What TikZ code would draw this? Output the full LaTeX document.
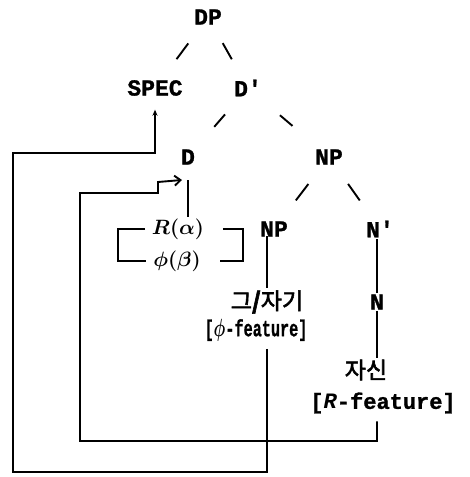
\documentclass[tikz,border=0pt]{standalone}
\usepackage{fontspec}
\usepackage{graphicx}
\setmainfont{Liberation Mono}[BoldFeatures={FakeBold=1.2}]
\newfontfamily\kofont{Noto Sans CJK KR}[FakeBold=2.5]
\usetikzlibrary{arrows.meta}

\begin{document}
\begin{tikzpicture}[x=1pt, y=-1pt, line width=1.8pt,
    lab/.style={font=\fontsize{23}{26}\selectfont\bfseries, inner sep=1pt},
    ko/.style={font=\fontsize{23}{26}\selectfont\kofont, inner sep=1pt},
    mth/.style={font=\fontsize{22}{24}\selectfont\boldmath, inner sep=1pt},
    branch/.style={line width=1.9pt},
    link/.style={line width=1.9pt, line join=miter}]
  \useasboundingbox (0,0) rectangle (469,477);
  % tree
  \node[lab] (DP) at (208,17) {DP};
  \node[lab] (SPEC) at (155,88) {SPEC};
  \node[lab] (Dbar) at (248,88) {D\textquotesingle};
  \node[lab] (D) at (188,157) {D};
  \node[lab] (NP) at (329,157) {NP};
  \node[mth] (Ra) at (178,229) {$R(\alpha)$};
  \node[mth] (phi) at (177,261) {$\phi(\beta)$};
  \node[lab] (NPb) at (274,229) {NP};
  \node[lab] (Nbar) at (380,229) {N\textquotesingle};
  \node[ko] (geu) at (267,302) {그\textbf{/}자기};
  \node[lab] (N) at (377,302) {N};
  \node[lab] (phif) at (256,330) {\scalebox{0.66}[1]{[\boldmath$\phi$-feature]}};
  \node[ko] (jasin) at (366,370) {자신};
  \node[lab, font=\fontsize{22}{26}\selectfont\bfseries] (Rf) at (383,403) {[\textit{R}-feature]};
  % branches
  \draw[branch, shorten <=33pt, shorten >=36pt] (DP.center) -- (SPEC.center);
  \draw[branch, shorten <=30pt, shorten >=33pt] (DP.center) -- (Dbar.center);
  \draw[branch, shorten <=35pt, shorten >=40pt] (Dbar.center) -- (D.center);
  \draw[branch, shorten <=42pt, shorten >=48pt] (Dbar.center) -- (NP.center);
  \draw[branch, shorten <=34pt, shorten >=36pt] (NP.center) -- (NPb.center);
  \draw[branch, shorten <=33pt, shorten >=35pt] (NP.center) -- (Nbar.center);
  \coordinate (Dstem) at (188,180);
  \draw[branch] (Dstem) -- (Dstem |- Ra.north);
  \draw[branch] (geu.north |- NPb.south) ++(0,-2) -- (geu.north);
  \draw[branch] (N.north |- Nbar.south) -- (N.north);
  \draw[branch] (N.south) -- (N.south |- jasin.north);
  % feature brackets
  \draw[link] ([xshift=-5pt]Ra.west) -- ++(-27,0) |- ([xshift=-5pt]phi.west);
  \draw[link] ([xshift=17pt]Ra.east) -- ++(20,0) |- ([xshift=17pt]phi.east);
  % movement paths
  \coordinate (c1) at (13,472);
  \coordinate (c2) at (13,153);
  \coordinate (c3) at (80,441);
  \coordinate (c4) at (80,193);
  \coordinate (c5) at (158,182);
  \draw[link, -{Stealth[length=6pt, width=5pt]}]
    ([yshift=-6pt]geu.south |- phif.south) |- (c1) |- (c2) -| ([yshift=-12pt]SPEC.south);
  \draw[link, -{Straight Barb[length=6pt, width=10pt]}]
    ([yshift=-6pt]N.south |- Rf.south) |- (c3) |- (c4) -| (c5) -- ([xshift=-6pt]Dstem);
\end{tikzpicture}
\end{document}
